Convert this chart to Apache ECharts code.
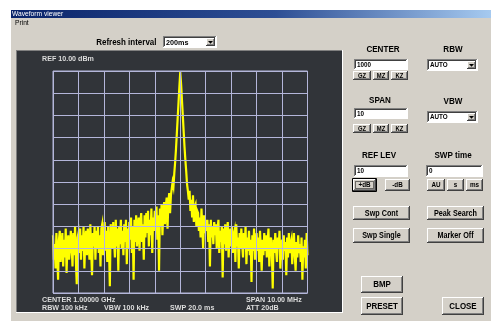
<!DOCTYPE html>
<html><head><meta charset="utf-8">
<script src="https://cdn.jsdelivr.net/npm/echarts@6/dist/echarts.min.js"></script>
<style>html,body{margin:0;padding:0;background:#fff;overflow:hidden}#c{width:491px;height:321px}</style>
</head><body><div id="c"></div>
<script>
// Trace levels (dBm), 301 points across the span
const levelsDbm = [
-64,-75,-68,-79,-63,-73,-84,-66,-62,-76,
-69,-63,-78,-66,-74,-61,-81,-68,-64,-75,
-70,-62,-69,-78,-63,-73,-60,-76,-86,-65,
-63,-72,-61,-75,-64,-71,-60,-79,-66,-62,
-73,-61,-67,-75,-59,-71,-82,-63,-69,-60,
-75,-62,-70,-60,-72,-64,-78,-61,-59,-73,
-65,-58,-71,-62,-76,-60,-69,-87,-59,-66,
-70,-58,-67,-74,-57,-69,-61,-80,-60,-68,
-57,-70,-62,-73,-59,-67,-57,-77,-61,-70,
-58,-66,-56,-72,-60,-84,-57,-67,-55,-69,
-61,-56,-71,-58,-54,-67,-59,-75,-55,-65,
-54,-63,-53,-69,-57,-64,-52,-72,-56,-62,
-53,-61,-51,-66,-55,-80,-52,-60,-50,-64,
-54,-49,-59,-51,-47,-61,-49,-45,-54,-46,
-43,-40,-42,-36,-31,-25,-18,-11,-4,3,
9.5,
4,-3,-10,-17,-24,-30,-35,-41,-44,-48,
-44,-53,-48,-56,-46,-58,-51,-50,-60,-53,
-54,-62,-56,-65,-52,-60,-70,-55,-63,-57,
-62,-57,-67,-59,-78,-57,-65,-60,-68,-58,
-64,-59,-70,-61,-57,-72,-62,-67,-60,-83,
-61,-68,-59,-71,-63,-58,-74,-65,-61,-69,
-60,-72,-64,-62,-76,-59,-69,-65,-79,-63,
-70,-61,-68,-74,-63,-70,-60,-77,-65,-71,
-62,-73,-66,-85,-64,-71,-61,-75,-67,-63,
-71,-65,-76,-62,-70,-80,-66,-73,-63,-71,
-64,-74,-67,-61,-78,-68,-65,-72,-88,-66,
-72,-63,-71,-76,-65,-70,-62,-79,-70,-66,
-75,-64,-71,-67,-82,-65,-74,-63,-72,-68,
-66,-77,-69,-63,-73,-80,-67,-74,-64,-72,
-68,-76,-65,-84,-69,-74,-66,-79,-63,-73
];
const refLevelDbm = 10;
const bottomLevelDbm = -90;
const dbPerDiv = 10;
const centerMHz = 1000;
const spanMHz = 10;
const freqDivisions = 10;
const freqMHz = levelsDbm.map((_, i) => (centerMHz - spanMHz / 2 + i * spanMHz / (levelsDbm.length - 1)).toFixed(4));

const panelTexts = [
  ['REF 10.00 dBm', 42, 58.5],
  ['CENTER 1.00000 GHz', 42, 299.5],
  ['RBW 100 kHz', 42, 308],
  ['VBW 100 kHz', 104, 308],
  ['SWP 20.0 ms', 170, 308],
  ['SPAN 10.00 MHz', 246, 299.5],
  ['ATT 20dB', 246, 308]
];

const FONT = '"Liberation Sans", Arial, sans-serif';
const els = [];
function R(x, y, w, h, fill, z) { els.push({type:'rect', shape:{x, y, width:w, height:h}, style:{fill}, z: z || 0, silent:true}); }
function L(x1, y1, x2, y2, c, z) { els.push({type:'line', shape:{x1, y1, x2, y2}, style:{stroke:c, lineWidth:1}, z: z || 0, silent:true}); }
function T(x, y, s, size, o) {
  o = o || {};
  els.push({type:'text', x, y, scaleX: o.sx || 1, z: o.z || 1, silent:true,
    style:{text:s, font:(o.bold === false ? 'normal ' : 'bold ') + size + 'px ' + FONT, fill:o.color || '#000',
      textAlign:o.align || 'left', textVerticalAlign:'middle', align:o.align || 'left', verticalAlign:'middle'}});
}
function raised(x, y, w, h) {
  R(x, y, w, h, '#d4d0c8');
  L(x, y + 0.5, x + w - 1, y + 0.5, '#ffffff');
  L(x + 0.5, y, x + 0.5, y + h - 1, '#ffffff');
  L(x, y + h - 0.5, x + w, y + h - 0.5, '#404040');
  L(x + w - 0.5, y, x + w - 0.5, y + h, '#404040');
  L(x + 1, y + h - 1.5, x + w - 1, y + h - 1.5, '#808080');
  L(x + w - 1.5, y + 1, x + w - 1.5, y + h - 1, '#808080');
}
function sunken(x, y, w, h, fill) {
  R(x, y, w, h, fill || '#ffffff');
  L(x, y + 0.5, x + w - 1, y + 0.5, '#808080');
  L(x + 0.5, y, x + 0.5, y + h - 1, '#808080');
  L(x + 1, y + 1.5, x + w - 2, y + 1.5, '#404040');
  L(x + 1.5, y + 1, x + 1.5, y + h - 2, '#404040');
  L(x, y + h - 0.5, x + w, y + h - 0.5, '#ffffff');
  L(x + w - 0.5, y, x + w - 0.5, y + h, '#ffffff');
}
function button(x, y, w, h, label, size, sx) {
  raised(x, y, w, h);
  T(x + w / 2, y + h / 2 + 0.5, label, size, {align:'center', sx: sx || 0.88});
}
function field(x, y, w, h, label) {
  sunken(x, y, w, h);
  T(x + 3, y + h / 2 + 0.5, label, 7, {sx:0.9});
}
function combo(x, y, w, h, label, size) {
  sunken(x, y, w, h);
  T(x + 3, y + h / 2 + 0.5, label, size || 7, {sx:0.9});
  const bw = h - 3;
  raised(x + w - 2 - bw, y + 2, bw, h - 4);
  const cx = x + w - 2 - bw / 2, cy = y + h / 2;
  els.push({type:'polygon', shape:{points:[[cx - 2.5, cy - 1], [cx + 2.5, cy - 1], [cx, cy + 1.8]]}, style:{fill:'#000'}, z:1, silent:true});
}

// window
R(11, 10, 480, 311, '#d4d0c8');
els.push({type:'rect', shape:{x:11, y:10, width:480, height:8}, silent:true, z:0,
  style:{fill:{type:'linear', x:0, y:0, x2:1, y2:0, colorStops:[{offset:0, color:'#0a246a'}, {offset:0.55, color:'#2d4e94'}, {offset:1, color:'#a6caf0'}]}}});
T(12, 14.2, 'Waveform viewer', 7, {bold:false, color:'#ffffff', sx:0.95});
T(15, 23, 'Print', 7, {bold:false, sx:0.95});
T(156.5, 42, 'Refresh interval', 9.5, {align:'right', sx:0.84});
combo(163, 36, 54, 12, '200ms', 8);

// dark display panel
R(16, 50, 327, 263, '#313439');
L(16, 50.5, 342, 50.5, '#808080');
L(16.5, 50, 16.5, 312, '#808080');
L(16, 312.5, 343, 312.5, '#ffffff');
L(342.5, 50, 342.5, 313, '#ffffff');
panelTexts.forEach(t => T(t[1], t[2], t[0], 7.5, {color:'#dcdcdc', sx:0.95, z:1}));

// right controls
T(383, 49, 'CENTER', 9.5, {align:'center', sx:0.85});
T(453, 49, 'RBW', 9.5, {align:'center', sx:0.85});
field(354, 59, 54, 11, '1000');
button(353, 71, 18, 9, 'GZ', 6.5, 0.9);
button(373, 71, 16, 9, 'MZ', 6.5, 0.9);
button(391, 71, 17, 9, 'KZ', 6.5, 0.9);
combo(427, 59, 51, 12, 'AUTO');

T(380, 100.5, 'SPAN', 9.5, {align:'center', sx:0.85});
T(453, 101.5, 'VBW', 9.5, {align:'center', sx:0.85});
field(354, 108, 54, 11, '10');
button(353, 124, 18, 9, 'GZ', 6.5, 0.9);
button(373, 124, 16, 9, 'MZ', 6.5, 0.9);
button(391, 124, 17, 9, 'KZ', 6.5, 0.9);
combo(427, 111, 51, 12, 'AUTO');

T(379, 155, 'REF LEV', 9.5, {align:'center', sx:0.85});
T(453, 155, 'SWP time', 9.5, {align:'center', sx:0.85});
field(354, 165, 54, 12, '10');
field(426, 165, 57, 12, '0');
button(353, 179, 23, 12, '+dB', 7, 0.9);
els.push({type:'rect', shape:{x:355.5, y:181.5, width:18, height:7}, style:{fill:'none', stroke:'#000', lineWidth:1, lineDash:[1, 1]}, z:1, silent:true});
els.push({type:'rect', shape:{x:352.5, y:178.5, width:24, height:13}, style:{fill:'none', stroke:'#000', lineWidth:1}, z:1, silent:true});
button(385, 179, 25, 12, '-dB', 7, 0.9);
button(427, 179, 18, 12, 'AU', 7, 0.9);
button(447, 179, 17, 12, 's', 7, 0.9);
button(466, 179, 17, 12, 'ms', 7, 0.9);

button(353, 206, 57, 14, 'Swp Cont', 8.5, 0.85);
button(353, 228, 57, 15, 'Swp Single', 8.5, 0.85);
button(427, 206, 57, 14, 'Peak Search', 8.5, 0.85);
button(427, 228, 57, 15, 'Marker Off', 8.5, 0.85);

button(361, 276, 42, 17, 'BMP', 9, 0.88);
button(361, 297, 42, 18, 'PRESET', 9, 0.88);
button(442, 297, 42, 18, 'CLOSE', 9, 0.88);

const chart = echarts.init(document.getElementById('c'), null, {renderer:'canvas'});
const gridColor = '#b4b6da';
chart.setOption({
  animation:false,
  backgroundColor:'#ffffff',
  graphic:{elements:els},
  grid:{left:53, top:71, width:254.5, height:222, show:true, borderColor:gridColor, borderWidth:1, backgroundColor:'transparent', z:3},
  xAxis:{type:'category', data:freqMHz, boundaryGap:false, z:3,
    axisLine:{show:false}, axisTick:{show:false}, axisLabel:{show:false},
    splitLine:{show:true, interval:(levelsDbm.length - 1) / freqDivisions - 1, lineStyle:{color:gridColor, width:1}}},
  yAxis:{type:'value', min:bottomLevelDbm, max:refLevelDbm, interval:dbPerDiv, z:3,
    axisLine:{show:false}, axisTick:{show:false}, axisLabel:{show:false},
    splitLine:{show:true, lineStyle:{color:gridColor, width:1}}},
  series:[{type:'line', data:levelsDbm, showSymbol:false, symbol:'none', sampling:null, z:2,
    lineStyle:{color:'#ffff00', width:2.2, join:'miter'}, silent:true}]
});
</script>
</body></html>
